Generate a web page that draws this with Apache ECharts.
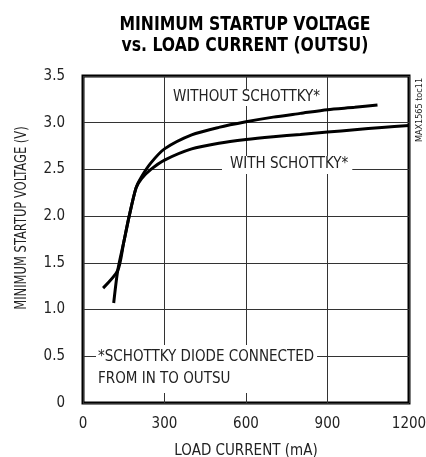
<!DOCTYPE html>
<html>
<head>
<meta charset="utf-8">
<script src="https://cdn.jsdelivr.net/npm/echarts@6/dist/echarts.min.js"></script>
<style>
  html, body { margin: 0; padding: 0; background: #fff; }
  #chart { width: 426px; height: 457px; }
</style>
</head>
<body>
<div id="chart"></div>
<script>
// load current (mA) vs minimum startup voltage (V)
const withoutCurrent = [113, 128, 150, 170, 195, 215, 250, 300, 400, 500, 600, 700, 800, 900, 1000, 1084];
const withoutVoltage = [1.07, 1.42, 1.72, 2.0, 2.3, 2.42, 2.57, 2.72, 2.87, 2.95, 3.01, 3.06, 3.1, 3.14, 3.165, 3.19];
const withCurrent = [74, 128, 150, 170, 195, 215, 250, 300, 400, 500, 600, 700, 800, 900, 1000, 1100, 1200];
const withVoltage = [1.23, 1.42, 1.72, 2.0, 2.3, 2.4, 2.5, 2.6, 2.72, 2.78, 2.82, 2.85, 2.875, 2.9, 2.925, 2.95, 2.97];

const xTicks = [0, 300, 600, 900, 1200];
const yTicks = ['0', '0.5', '1.0', '1.5', '2.0', '2.5', '3.0', '3.5'];

const FONT = '"DejaVu Sans Condensed", sans-serif';
const TXT = '#222';

const chart = echarts.init(document.getElementById('chart'));

function pairs(xs, ys) {
  return xs.map((x, i) => [x, ys[i]]);
}

const curveStyle = { color: '#000', width: 3 };

chart.setOption({
  animation: false,
  grid: {
    left: 83,
    right: 17,
    top: 76,
    bottom: 54,
    outerBoundsMode: 'none',
    containLabel: false,
    show: true,
    borderColor: '#000',
    borderWidth: 3,
    backgroundColor: 'transparent'
  },
  xAxis: {
    type: 'value',
    min: 0,
    max: 1200,
    interval: 300,
    name: 'LOAD CURRENT (mA)',
    nameLocation: 'middle',
    nameGap: 41,
    nameTextStyle: { fontFamily: FONT, fontSize: 15, color: TXT },
    axisLine: { show: false },
    axisTick: { show: false },
    axisLabel: {
      margin: 14,
      fontFamily: FONT,
      fontSize: 15,
      color: TXT,
      formatter: v => xTicks.includes(v) ? String(v) : ''
    },
    splitLine: { show: true, lineStyle: { color: '#333', width: 1 } }
  },
  yAxis: {
    type: 'value',
    min: 0,
    max: 3.5,
    interval: 0.5,
    axisLine: { show: false },
    axisTick: { show: false },
    axisLabel: {
      margin: 18,
      fontFamily: FONT,
      fontSize: 15,
      color: TXT,
      formatter: v => yTicks[Math.round(v / 0.5)]
    },
    splitLine: { show: true, lineStyle: { color: '#333', width: 1 } }
  },
  graphic: [
    {
      type: 'text',
      x: 245,
      y: 14,
      scaleX: 0.87,
      style: {
        text: 'MINIMUM STARTUP VOLTAGE\nvs. LOAD CURRENT (OUTSU)',
        font: 'bold 20px ' + FONT,
        lineHeight: 21,
        fill: '#000',
        align: 'center'
      }
    },
    {
      type: 'text',
      x: 22,
      y: 218,
      rotation: Math.PI / 2,
      scaleX: 0.8,
      style: {
        text: 'MINIMUM STARTUP VOLTAGE (V)',
        font: '16px ' + FONT,
        fill: TXT,
        align: 'center',
        verticalAlign: 'middle'
      }
    },
    {
      type: 'text',
      x: 424,
      y: 110,
      rotation: Math.PI / 2,
      style: {
        text: 'MAX1565 toc11',
        font: '9px ' + FONT,
        fill: TXT,
        align: 'center',
        verticalAlign: 'bottom'
      }
    },
    {
      type: 'text',
      x: 171,
      y: 89,
      z: 10,
      style: {
        text: 'WITHOUT SCHOTTKY*',
        font: '15px ' + FONT,
        fill: TXT,
        backgroundColor: '#fff',
        padding: [1, 2, 1, 2]
      }
    },
    {
      type: 'text',
      x: 222,
      y: 156,
      z: 10,
      style: {
        text: 'WITH SCHOTTKY*',
        font: '15px ' + FONT,
        fill: TXT,
        backgroundColor: '#fff',
        padding: [1, 4, 2, 8]
      }
    },
    {
      type: 'text',
      x: 96,
      y: 345,
      z: 10,
      style: {
        text: '*SCHOTTKY DIODE CONNECTED\nFROM IN TO OUTSU',
        font: '15px ' + FONT,
        lineHeight: 22,
        fill: TXT,
        backgroundColor: '#fff',
        padding: [1, 3, 3, 2]
      }
    }
  ],
  series: [
    {
      name: 'WITHOUT SCHOTTKY',
      type: 'line',
      data: pairs(withoutCurrent, withoutVoltage),
      smooth: 0.25,
      symbol: 'none',
      lineStyle: curveStyle,
      z: 5
    },
    {
      name: 'WITH SCHOTTKY',
      type: 'line',
      data: pairs(withCurrent, withVoltage),
      smooth: 0.25,
      symbol: 'none',
      lineStyle: curveStyle,
      z: 5
    }
  ]
});
</script>
</body>
</html>
